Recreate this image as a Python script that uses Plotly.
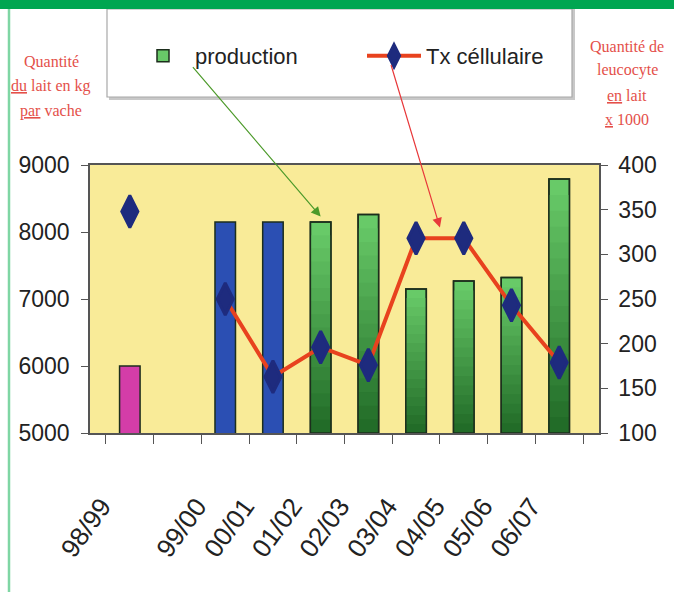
import plotly.graph_objects as go

# ---------------- data ----------------
categories = ["98/99", " ", "99/00", "00/01", "01/02", "02/03", "03/04", "04/05", "05/06", "06/07"]
production = [6000, None, 8150, 8150, 8150, 8260, 7150, 7270, 7320, 8790]
tx_cellulaire = [348, None, 250, 163, 196, 176, 318, 318, 243, 179]
bar_group = ["magenta", None, "blue", "blue", "green", "green", "green", "green", "green", "green"]

left_title_lines = ["Quantité", "<u>du</u> lait en kg", "<u>par</u> vache"]
right_title_lines = ["Quantité de", "leucocyte", "<u>en</u> lait", "<u>x</u> 1000"]

# ---------------- styles ----------------
SANS = "Liberation Sans, Arial, sans-serif"
SERIF = "Liberation Serif, Times New Roman, serif"
solid_colors = {"magenta": "#d43da8", "blue": "#2b4fb3"}
OUTLINE = "#1c2e1c"
BASE = 5000
W, H = 674, 592
# plot area in window pixels: x 90..599, y 165..433
ML, MR, MT, MB = 90, 674 - 599, 165, 592 - 433
PW, PH = W - ML - MR, H - MT - MB

def px_x(x):
    return (x - ML) / PW

def px_y(y):
    return (H - MB - y) / PH

fig = go.Figure()

# solid (magenta / blue) bars
solid_y = [v if g in solid_colors else None for v, g in zip(production, bar_group)]
solid_c = [solid_colors.get(g, "#000") for g in bar_group]
fig.add_trace(go.Bar(
    x=categories, y=solid_y, marker=dict(color=solid_c, line=dict(color=OUTLINE, width=1.5)),
    width=0.43, showlegend=False, hoverinfo="skip",
))

# green bars with vertical gradient (light top -> dark bottom)
N = 16
top_rgb = (104, 202, 104)
bot_rgb = (34, 108, 40)
for k in range(N):
    t = k / (N - 1)
    rgb = tuple(round(a + (b - a) * t) for a, b in zip(top_rgb, bot_rgb))
    frac = 1 - k / N
    ys = [(v - BASE) * frac if g == "green" else None for v, g in zip(production, bar_group)]
    fig.add_trace(go.Bar(
        x=categories, y=ys, base=BASE,
        marker=dict(color="rgb(%d,%d,%d)" % rgb,
                    line=dict(color=OUTLINE if k == 0 else "rgba(0,0,0,0)", width=1.5 if k == 0 else 0)),
        width=0.43, name="production", showlegend=(k == 0), hoverinfo="skip",
    ))
# outline on top
green_y = [v - BASE if g == "green" else None for v, g in zip(production, bar_group)]
fig.add_trace(go.Bar(
    x=categories, y=green_y, base=BASE,
    marker=dict(color="rgba(0,0,0,0)", line=dict(color=OUTLINE, width=1.5)),
    width=0.43, showlegend=False, hoverinfo="skip",
))

# line
fig.add_trace(go.Scatter(
    x=categories, y=tx_cellulaire, yaxis="y2", mode="lines+markers", name="Tx céllulaire",
    connectgaps=False,
    line=dict(color="#e8421e", width=4),
    marker=dict(symbol="diamond-tall", size=23, color="#1e2b7e", line=dict(color="#1e2b7e", width=3)),
))

shapes = [
    # green banner
    dict(type="rect", xref="paper", yref="paper", x0=px_x(-5), x1=px_x(690), y0=px_y(9), y1=px_y(-5),
         fillcolor="#00a651", line=dict(width=0), layer="above"),
    # left border line
    dict(type="line", xref="paper", yref="paper", x0=px_x(9), x1=px_x(9), y0=px_y(9), y1=px_y(600),
         line=dict(color="#7fd6a4", width=2.5)),
    # legend box shadow + box
    dict(type="rect", xref="paper", yref="paper", x0=px_x(109), x1=px_x(575), y0=px_y(100), y1=px_y(9),
         fillcolor="#c8c8c8", line=dict(width=0), layer="below"),
    dict(type="rect", xref="paper", yref="paper", x0=px_x(107), x1=px_x(572), y0=px_y(97), y1=px_y(9),
         fillcolor="white", line=dict(color="#a8a8a8", width=1.2), layer="below"),
]

annotations = []
for i, line in enumerate(left_title_lines):
    annotations.append(dict(xref="paper", yref="paper", x=px_x(51), y=px_y(61 + i * 25), text=line,
                            showarrow=False, font=dict(family=SERIF, size=16, color="#e4504a"),
                            xanchor="center", yanchor="middle"))
for i, line in enumerate(right_title_lines):
    annotations.append(dict(xref="paper", yref="paper", x=px_x(627), y=px_y(46 + i * 24.5), text=line,
                            showarrow=False, font=dict(family=SERIF, size=16, color="#e4504a"),
                            xanchor="center", yanchor="middle"))
# pointer arrows from legend
slot = PW / len(categories)
annotations.append(dict(x=categories[4], y=8230, xref="x", yref="y",
                        ax=190 - (ML + 4.5 * slot), ay=64 - 215,
                        text="", showarrow=True, arrowhead=2, arrowsize=1.6, arrowwidth=1.2, arrowcolor="#4c9a2a"))
annotations.append(dict(x=6.5, y=330, xref="x", yref="y2",
                        ax=397 - (ML + 7.0 * slot), ay=64 - 228,
                        text="", showarrow=True, arrowhead=2, arrowsize=1.6, arrowwidth=1.2, arrowcolor="#e8383a"))

fig.update_layout(
    width=W, height=H,
    margin=dict(l=ML, r=MR, t=MT, b=MB, pad=0, autoexpand=False),
    paper_bgcolor="white", plot_bgcolor="#f9eb98",
    barmode="overlay",
    font=dict(family=SANS, size=22, color="#222"),
    showlegend=True,
    legend=dict(orientation="h", x=px_x(131), y=px_y(56), xanchor="left", yanchor="middle",
                bgcolor="rgba(0,0,0,0)", borderwidth=0, itemwidth=54,
                entrywidth=162, entrywidthmode="pixels",
                font=dict(family=SANS, size=22, color="#222")),
    xaxis=dict(type="category", categoryorder="array", categoryarray=categories, automargin=False,
               showline=True, linecolor="#555", linewidth=1.5, mirror=True,
               ticks="outside", tickson="boundaries", ticklen=9, tickcolor="#555",
               tickangle=-54, ticklabelstandoff=46, ticklabelshift=-28, showgrid=False,
               tickfont=dict(family=SANS, size=26, color="#222")),
    yaxis=dict(range=[5000, 9000], dtick=1000, showline=True, linecolor="#555", linewidth=1.5,
               automargin=False,
               ticks="outside", ticklen=7, tickcolor="#555", showgrid=False, zeroline=False,
               ticklabelstandoff=7, tickfont=dict(family=SANS, size=23, color="#222")),
    yaxis2=dict(range=[100, 400], dtick=50, overlaying="y", side="right", showline=True, automargin=False,
                linecolor="#555", linewidth=1.5, ticks="outside", ticklen=7, tickcolor="#555",
                showgrid=False, zeroline=False, ticklabelstandoff=6,
                tickfont=dict(family=SANS, size=23, color="#222")),
    shapes=shapes, annotations=annotations,
)

# remove the browser's default page margin so the figure fills the window
fig.write_html("out.html", config={"displayModeBar": False},
               post_script="document.body.style.margin='0';document.body.style.overflow='hidden';")
